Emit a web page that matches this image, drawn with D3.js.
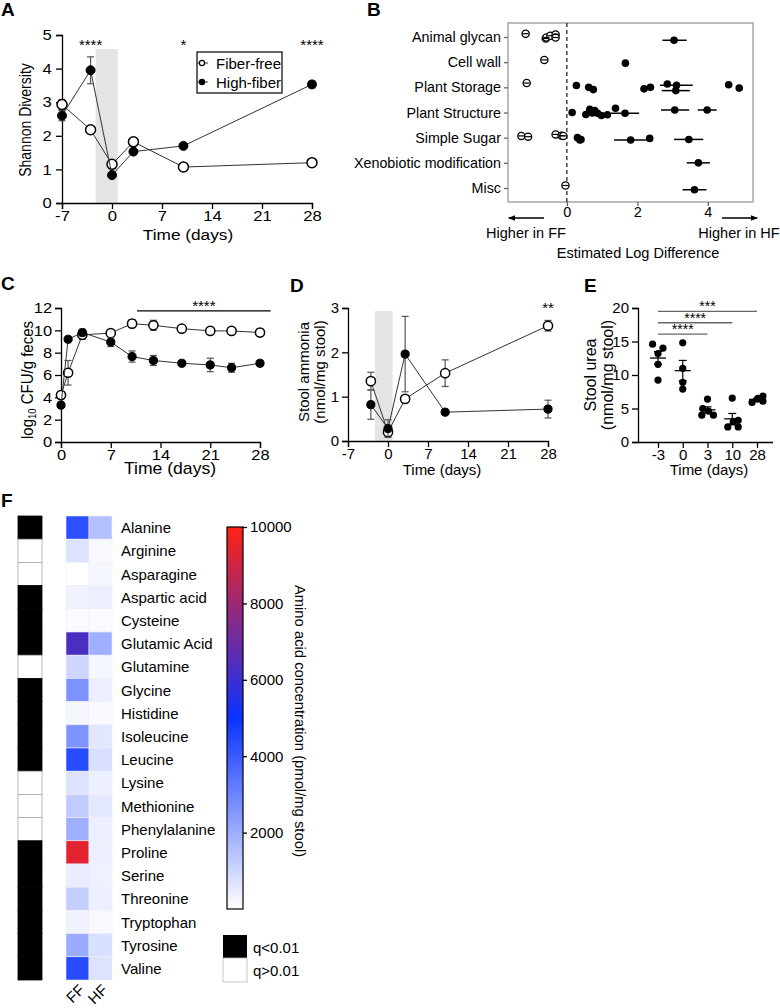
<!DOCTYPE html>
<html><head><meta charset="utf-8">
<script src="https://cdn.jsdelivr.net/npm/d3@7"></script>
<style>body{margin:0;background:#fff} svg{display:block}</style>
</head><body>
<svg id="fig" width="780" height="1008"></svg>
<script>
// ---------------- DATA ----------------
// Panel A: Shannon diversity
const daysA = [-7, -3, 0, 3, 10, 28];
const ffA = [2.93, 2.18, 1.15, 1.82, 1.07, 1.2];
const ffAErr = [0.15, 0, 0, 0, 0, 0];
const hfA = [2.6, 3.95, 0.83, 1.53, 1.7, 3.53];
const hfAErr = [0.15, 0.4, 0, 0, 0, 0.1];
const sigA = [[-3, "****"], [10, "*"], [28, "****"]];
const shadeDays = [-2.3, 0.8];
const ticksA = [-7, 0, 7, 14, 21, 28];

// Panel B: estimated log difference
const catsB = ["Animal glycan", "Cell wall", "Plant Storage", "Plant Structure", "Simple Sugar", "Xenobiotic modification", "Misc"];
// [category index, value, lo, hi, jitter(rows)]
const ffB = [
  [0, -1.17, null, null, -0.13], [0, -0.6, null, null, 0.06], [0, -0.58, null, null, 0.02], [0, -0.47, null, null, -0.05], [0, -0.32, null, null, -0.1], [0, -0.32, null, null, 0.02],
  [1, -0.64, null, null, -0.09],
  [2, -1.14, null, null, -0.17],
  [4, -1.29, null, null, -0.07], [4, -1.1, null, null, -0.04], [4, -0.32, null, null, -0.13], [4, -0.15, null, null, -0.08], [4, -0.1, null, null, -0.07],
  [6, -0.04, null, null, -0.1]
];
const hfB = [
  [0, 3.04, 2.71, 3.4, 0.13],
  [1, 1.66, null, null, 0.04],
  [2, 0.27, null, null, -0.07], [2, 0.62, null, null, 0], [2, 0.75, null, null, 0.09], [2, 2.19, 2.09, 2.28, 0.06], [2, 2.37, 2.25, 2.45, 0], [2, 2.85, null, null, -0.13], [2, 3.11, 2.64, 3.57, -0.08], [2, 3.09, 2.69, 3.49, 0.13], [2, 4.59, null, null, -0.1], [2, 4.89, null, null, 0.03],
  [3, 0.15, null, null, 0], [3, 0.54, null, null, 0.08], [3, 0.65, null, null, -0.13], [3, 0.72, null, null, 0.02], [3, 0.79, null, null, -0.08], [3, 0.87, null, null, 0.03], [3, 0.98, null, null, 0.12], [3, 1.15, null, null, 0.09], [3, 1.38, null, null, -0.17], [3, 1.65, 1.25, 2.05, 0.03], [3, 3.06, 2.67, 3.47, -0.1], [3, 3.98, 3.71, 4.25, -0.1],
  [4, 0.3, null, null, 0], [4, 0.37, null, null, 0.09], [4, 0.4, null, null, 0.07], [4, 1.81, 1.34, 2.26, 0.09], [4, 2.35, null, null, 0.03], [4, 3.46, 3.04, 3.87, 0.07],
  [5, 3.73, 3.4, 4.06, 0],
  [6, 3.62, 3.28, 3.96, 0.07]
];
const ticksB = [0, 2, 4];

// Panel C: log10 CFU/g feces
const daysC = [0, 1, 3, 7, 10, 13, 17, 21, 24, 28];
const ffC = [4.2, 6.2, 9.6, 9.75, 10.6, 10.45, 10.15, 9.95, 9.95, 9.8];
const ffCErr = [0.1, 1.1, 0.4, 0.15, 0.35, 0.45, 0.1, 0.1, 0.1, 0.3];
const hfC = [3.3, 9.2, 9.8, 8.95, 7.65, 7.3, 7.05, 6.9, 6.65, 7.05];
const hfCErr = [0.1, 0.1, 0.3, 0.4, 0.5, 0.45, 0.1, 0.6, 0.4, 0.2];
const sigC = [10.7, 29.5, 11.75, "****"];
const ticksC = [0, 7, 14, 21, 28];

// Panel D: stool ammonia
const daysD = [-3, 0, 3, 10, 28];
const ffD = [1.35, 0.2, 0.95, 1.53, 2.6];
const ffDErr = [0.2, 0.08, 0.07, 0.3, 0.12];
const hfD = [0.82, 0.28, 1.96, 0.65, 0.72];
const hfDErr = [0.33, 0.2, 0.85, 0, 0.2];
const sigD = [[28, "**"]];
const ticksD = [-7, 0, 7, 14, 21, 28];

// Panel E: stool urea
const catsE = ["-3", "0", "3", "10", "28"];
const valsE = [[14.6, 14.0, 13.2, 11.6, 9.25], [14.8, 11.0, 8.9, 7.9], [6.4, 5.0, 4.6, 4.0, 4.0], [6.55, 3.25, 3.0, 2.25, 2.25], [5.9, 6.5, 6.85, 6.1, 6.4]];
const jitE = [[-0.22, 0.2, 0, 0, 0], [0, 0, 0, 0], [0, -0.19, 0.04, -0.23, 0.24], [0, 0.24, 0.04, -0.18, 0.24], [-0.2, 0.04, 0.24, 0.24, 0.02]];
const sigE = [["-3", "28", 19.5, "***"], ["-3", "10", 17.8, "****"], ["-3", "3", 16.1, "****"]];

// Panel F: amino acid heatmap
const aminoAcids = ["Alanine", "Arginine", "Asparagine", "Aspartic acid", "Cysteine", "Glutamic Acid", "Glutamine", "Glycine", "Histidine", "Isoleucine", "Leucine", "Lysine", "Methionine", "Phenylalanine", "Proline", "Serine", "Threonine", "Tryptophan", "Tyrosine", "Valine"];
const ffF = [4300, 700, 0, 300, 100, 6300, 1000, 2650, 200, 2600, 4400, 700, 1270, 1950, 9400, 450, 1180, 300, 2050, 4400];
const hfF = [1550, 150, 200, 400, 100, 1950, 200, 400, 120, 590, 780, 400, 530, 400, 400, 350, 400, 140, 780, 700];
const sigF = [1, 0, 0, 1, 1, 1, 0, 1, 1, 1, 1, 0, 0, 0, 1, 1, 1, 1, 1, 1];
const colsF = ["FF", "HF"];
const cbTicks = [2000, 4000, 6000, 8000, 10000];

// ---------------- DRAW ----------------
const F = '"Liberation Sans", Arial, Helvetica, sans-serif';
const svg = d3.select("#fig").attr("font-family", F);
const LINE = "#333", ERR = "#555";
const plain = d => String(d);

function styleAxis(g, fs = 14, sx = 1) {
  g.selectAll("path,line").attr("stroke", "#000").attr("stroke-width", 1.3);
  g.selectAll("text").attr("font-size", fs).attr("font-family", F).attr("fill", "#000");
  if (sx !== 1) g.selectAll("text").attr("transform", `scale(${sx},1)`);
}
function letter(t, x, y) {
  svg.append("text").attr("x", x).attr("y", y).attr("font-size", 19).attr("font-weight", "bold").text(t);
}
function text(t, x, y, opts = {}) {
  const sx = opts.sx || 1, rot = opts.rot || 0;
  return svg.append("text").attr("transform", `translate(${x},${y}) scale(${sx},1) rotate(${rot})`)
    .attr("font-size", opts.fs || 14).attr("text-anchor", opts.anchor || "middle").attr("dominant-baseline", "central").text(t);
}
function series(g, xs, ys, errs, x, y, open, r) {
  const pts = xs.map((d, i) => ({ x: d, y: ys[i], e: errs[i] }));
  g.append("path").datum(pts).attr("fill", "none").attr("stroke", LINE).attr("stroke-width", 1)
    .attr("d", d3.line().x(d => x(d.x)).y(d => y(d.y)));
  const eb = g.append("g").attr("stroke", ERR).attr("stroke-width", 1.2);
  pts.filter(d => d.e > 0).forEach(d => {
    eb.append("line").attr("x1", x(d.x)).attr("x2", x(d.x)).attr("y1", y(d.y - d.e)).attr("y2", y(d.y + d.e));
    [d.y - d.e, d.y + d.e].forEach(v => eb.append("line").attr("x1", x(d.x) - 3.5).attr("x2", x(d.x) + 3.5).attr("y1", y(v)).attr("y2", y(v)));
  });
  g.selectAll(null).data(pts).join("circle").attr("cx", d => x(d.x)).attr("cy", d => y(d.y))
    .attr("r", open ? r : r - 0.5).attr("fill", open ? "#fff" : "#000").attr("stroke", "#000").attr("stroke-width", open ? 1.5 : 1);
}

// ---- Panel A ----
letter("A", 1, 16);
{
  const x = d3.scaleLinear([-7, 28], [62, 312]);
  const y = d3.scaleLinear([0, 5], [203, 35]);
  const g = svg.append("g");
  g.append("rect").attr("x", x(shadeDays[0])).attr("width", x(shadeDays[1]) - x(shadeDays[0]))
    .attr("y", y(4.58)).attr("height", y(0) - y(4.58)).attr("fill", "#e4e4e4");
  styleAxis(g.append("g").attr("transform", "translate(0,203)").call(d3.axisBottom(x).tickValues(ticksA).tickFormat(plain).tickSizeOuter(0).tickSize(6).tickPadding(2)), 14.5, 1.15);
  styleAxis(g.append("g").attr("transform", "translate(62,0)").call(d3.axisLeft(y).ticks(5).tickFormat(plain).tickSizeOuter(0).tickSize(6).tickPadding(3)), 14.5, 1.15);
  series(g, daysA, ffA, ffAErr, x, y, true, 5);
  series(g, daysA, hfA, hfAErr, x, y, false, 5);
  sigA.forEach(s => text(s[1], x(s[0]), 44, { fs: 15 }));
  text("Shannon Diversity", 25, 120, { rot: -90, fs: 14, sx: 1.15 });
  text("Time (days)", 188, 234, { fs: 15, sx: 1.15 });
  // legend
  g.append("rect").attr("x", 197).attr("y", 52).attr("width", 85).attr("height", 41).attr("fill", "#fff").attr("stroke", "#000").attr("stroke-width", 1.2);
  [["Fiber-free", true, 63], ["High-fiber", false, 82]].forEach(([t, open, yy]) => {
    g.append("line").attr("x1", 197).attr("x2", 208).attr("y1", yy).attr("y2", yy).attr("stroke", LINE);
    g.append("circle").attr("cx", 202).attr("cy", yy).attr("r", 2.6).attr("fill", open ? "#fff" : "#000").attr("stroke", "#000").attr("stroke-width", 1.2);
    text(t, 216, yy, { anchor: "start", fs: 15 });
  });
}

// ---- Panel B ----
letter("B", 367, 16);
{
  const x = d3.scaleLinear([-1.67, 5.28], [508, 753]);
  const y = d3.scalePoint(catsB, [37, 188]);
  const step = y.step();
  const g = svg.append("g");
  g.append("rect").attr("x", 508).attr("y", 23).attr("width", 245).attr("height", 179).attr("fill", "none").attr("stroke", "#999").attr("stroke-width", 1.3);
  g.append("line").attr("x1", x(0)).attr("x2", x(0)).attr("y1", 23).attr("y2", 202).attr("stroke", "#000").attr("stroke-dasharray", "4,3").attr("stroke-width", 1.1);
  const ax = g.append("g").attr("transform", "translate(0,202)").call(d3.axisBottom(x).tickValues(ticksB).tickFormat(plain).tickSizeOuter(0).tickSize(4).tickPadding(1));
  styleAxis(ax, 14.5); ax.select("path").remove(); ax.selectAll("line").attr("stroke", "#666");
  const ay = g.append("g").attr("transform", "translate(508,0)").call(d3.axisLeft(y).tickSizeOuter(0).tickSize(4).tickPadding(3));
  styleAxis(ay, 14.3); ay.select("path").remove(); ay.selectAll("line").attr("stroke", "#666");
  const py = d => y(catsB[d[0]]) + d[4] * step;
  hfB.filter(d => d[2] != null).forEach(d => g.append("line").attr("x1", x(d[2])).attr("x2", x(d[3])).attr("y1", py(d)).attr("y2", py(d)).attr("stroke", "#000").attr("stroke-width", 1.5));
  g.selectAll(null).data(hfB).join("circle").attr("cx", d => x(d[1])).attr("cy", py).attr("r", 3.8).attr("fill", "#000");
  g.selectAll(null).data(ffB).join("circle").attr("cx", d => x(d[1])).attr("cy", py).attr("r", 3.6).attr("fill", "#fff").attr("stroke", "#000").attr("stroke-width", 1.3);
  ffB.forEach(d => g.append("line").attr("x1", x(d[1]) - 3).attr("x2", x(d[1]) + 3).attr("y1", py(d)).attr("y2", py(d)).attr("stroke", "#000").attr("stroke-width", 1.2));
  // arrows
  const mk = svg.append("defs").append("marker").attr("id", "arr").attr("viewBox", "0 0 10 10").attr("refX", 9).attr("refY", 5)
    .attr("markerWidth", 9).attr("markerHeight", 7).attr("orient", "auto-start-reverse").attr("markerUnits", "userSpaceOnUse");
  mk.append("path").attr("d", "M0,1 L10,5 L0,9 Z").attr("fill", "#000");
  g.append("line").attr("x1", x(-0.65)).attr("x2", x(-1.65)).attr("y1", 218).attr("y2", 218).attr("stroke", "#000").attr("stroke-width", 1.3).attr("marker-end", "url(#arr)");
  g.append("line").attr("x1", x(4.4)).attr("x2", x(5.4)).attr("y1", 218).attr("y2", 218).attr("stroke", "#000").attr("stroke-width", 1.3).attr("marker-end", "url(#arr)");
  text("Higher in FF", 526, 233, { fs: 14.5 });
  text("Higher in HF", 739, 233, { fs: 14.5 });
  text("Estimated Log Difference", 638, 253, { fs: 14.5 });
}

// ---- Panel C ----
letter("C", 1, 290);
{
  const x = d3.scaleLinear([0, 28], [61, 260]);
  const y = d3.scaleLinear([0, 12], [442, 308]);
  const g = svg.append("g");
  styleAxis(g.append("g").attr("transform", "translate(0,442)").call(d3.axisBottom(x).tickValues(ticksC).tickFormat(plain).tickSizeOuter(0).tickSize(6).tickPadding(1)), 15, 1.1);
  styleAxis(g.append("g").attr("transform", "translate(61,0)").call(d3.axisLeft(y).tickValues([0, 2, 4, 6, 8, 10, 12]).tickFormat(plain).tickSizeOuter(0).tickSize(6).tickPadding(2)), 15, 1.1);
  series(g, daysC, ffC, ffCErr, x, y, true, 4.6);
  series(g, daysC, hfC, hfCErr, x, y, false, 4.6);
  g.append("line").attr("x1", x(sigC[0])).attr("x2", x(sigC[1])).attr("y1", y(sigC[2])).attr("y2", y(sigC[2])).attr("stroke", "#000").attr("stroke-width", 1.2);
  text(sigC[3], x((sigC[0] + sigC[1]) / 2), y(sigC[2]) - 5, { fs: 15 });
  const t = svg.append("text").attr("transform", "translate(27,380) scale(1.1,1) rotate(-90)").attr("text-anchor", "middle").attr("dominant-baseline", "central").attr("font-size", 15);
  t.append("tspan").text("log");
  t.append("tspan").attr("font-size", 9.5).attr("dy", 4).text("10");
  t.append("tspan").attr("dy", -4).text(" CFU/g feces");
  text("Time (days)", 170, 469, { fs: 16, sx: 1.1 });
}

// ---- Panel D ----
letter("D", 290, 292);
{
  const x = d3.scaleLinear([-7, 28], [348, 548]);
  const y = d3.scaleLinear([0, 3], [441, 308]);
  const g = svg.append("g");
  g.append("rect").attr("x", x(shadeDays[0])).attr("width", x(shadeDays[1]) - x(shadeDays[0]))
    .attr("y", y(2.93)).attr("height", y(0) - y(2.93)).attr("fill", "#e4e4e4");
  styleAxis(g.append("g").attr("transform", "translate(0,441)").call(d3.axisBottom(x).tickValues(ticksD).tickFormat(plain).tickSizeOuter(0).tickSize(6).tickPadding(1)), 15);
  styleAxis(g.append("g").attr("transform", "translate(348,0)").call(d3.axisLeft(y).ticks(3).tickFormat(plain).tickSizeOuter(0).tickSize(6).tickPadding(3)), 15);
  series(g, daysD, ffD, ffDErr, x, y, true, 4.6);
  series(g, daysD, hfD, hfDErr, x, y, false, 4.6);
  sigD.forEach(s => text(s[1], x(s[0]), 307, { fs: 15 }));
  text("Stool ammonia", 303, 372, { rot: -90, fs: 15 });
  text("(nmol/mg stool)", 319, 372, { rot: -90, fs: 15 });
  text("Time (days)", 442, 469, { fs: 15 });
}

// ---- Panel E ----
letter("E", 584, 292);
{
  const x = d3.scalePoint(catsE, [658, 757]);
  const step = x.step();
  const y = d3.scaleLinear([0, 20], [442, 308]);
  const g = svg.append("g");
  const ax = g.append("g").attr("transform", "translate(0,442)").call(d3.axisBottom(x).tickSizeOuter(0).tickSize(6).tickPadding(1));
  styleAxis(ax, 15);
  ax.select("path").attr("d", "M638,0.5H773");
  styleAxis(g.append("g").attr("transform", "translate(638,0)").call(d3.axisLeft(y).tickValues([0, 5, 10, 15, 20]).tickFormat(plain).tickSizeOuter(0).tickSize(6).tickPadding(3)), 15);
  catsE.forEach((c, i) => {
    const vals = valsE[i];
    const m = d3.mean(vals), se = d3.deviation(vals) / Math.sqrt(vals.length);
    g.selectAll(null).data(vals).join("circle").attr("cx", (d, j) => x(c) + jitE[i][j] * step).attr("cy", d => y(d)).attr("r", 3.6).attr("fill", "#000");
    g.append("line").attr("x1", x(c) - 8).attr("x2", x(c) + 8).attr("y1", y(m)).attr("y2", y(m)).attr("stroke", "#000").attr("stroke-width", 1.3);
    g.append("line").attr("x1", x(c)).attr("x2", x(c)).attr("y1", y(m - se)).attr("y2", y(m + se)).attr("stroke", "#000").attr("stroke-width", 1.2);
    [m - se, m + se].forEach(v => g.append("line").attr("x1", x(c) - 4).attr("x2", x(c) + 4).attr("y1", y(v)).attr("y2", y(v)).attr("stroke", "#000").attr("stroke-width", 1.2));
  });
  sigE.forEach(s => {
    g.append("line").attr("x1", x(s[0])).attr("x2", x(s[1])).attr("y1", y(s[2])).attr("y2", y(s[2])).attr("stroke", "#666").attr("stroke-width", 1.3);
    text(s[3], (x(s[0]) + x(s[1])) / 2, y(s[2]) - 5, { fs: 14 });
  });
  text("Stool urea", 590, 375, { rot: -90, fs: 16 });
  text("(nmol/mg stool)", 607, 375, { rot: -90, fs: 16 });
  text("Time (days)", 709, 469, { fs: 15 });
}

// ---- Panel F ----
letter("F", 1, 507);
{
  const y = d3.scaleBand(aminoAcids, [516, 980]);
  const xc = d3.scaleBand(colsF, [66, 112]);
  const color = d3.scaleLinear([0, 5000, 10000], ["#ffffff", "#0a32ff", "#ff2215"]).interpolate(d3.interpolateRgb);
  const g = svg.append("g");
  // significance bar
  g.selectAll(null).data(aminoAcids).join("rect").attr("x", 18).attr("width", 24).attr("y", d => y(d)).attr("height", y.bandwidth())
    .attr("fill", (d, i) => sigF[i] ? "#000" : "#fff").attr("stroke", (d, i) => sigF[i] ? "#000" : "#aaa").attr("stroke-width", 0.8);
  // heatmap
  [ffF, hfF].forEach((vals, ci) => {
    g.selectAll(null).data(aminoAcids).join("rect").attr("x", xc(colsF[ci])).attr("width", xc.bandwidth())
      .attr("y", d => y(d)).attr("height", y.bandwidth()).attr("fill", (d, i) => color(vals[i])).attr("stroke", "#eeeef4").attr("stroke-width", 0.6);
  });
  aminoAcids.forEach(a => text(a, 121, y(a) + y.bandwidth() / 2, { anchor: "start", fs: 15 }));
  colsF.forEach(c => {
    const cx = xc(c) + xc.bandwidth() / 2 + 4, cy = 987;
    svg.append("text").attr("x", cx).attr("y", cy).attr("font-size", 15).attr("text-anchor", "end").attr("dominant-baseline", "central")
      .attr("transform", `rotate(-45,${cx},${cy})`).text(c);
  });
  // colorbar
  const cy = d3.scaleLinear([0, 10000], [909, 527]);
  const grad = svg.append("defs").append("linearGradient").attr("id", "cb").attr("x1", 0).attr("x2", 0).attr("y1", 1).attr("y2", 0);
  d3.range(0, 10001, 500).forEach(v => grad.append("stop").attr("offset", v / 10000).attr("stop-color", color(v)));
  g.append("rect").attr("x", 227).attr("y", 527).attr("width", 16).attr("height", 382).attr("fill", "url(#cb)").attr("stroke", "#000").attr("stroke-width", 1.2);
  const cax = g.append("g").attr("transform", "translate(243,0)").call(d3.axisRight(cy).tickValues(cbTicks).tickSize(4).tickPadding(3).tickFormat(plain));
  styleAxis(cax, 15); cax.select("path").remove();
  text("Amino acid concentration (pmol/mg stool)", 300, 721, { rot: 90, fs: 14.8 });
  // q legend
  g.append("rect").attr("x", 223).attr("y", 935).attr("width", 24).attr("height", 23).attr("fill", "#000");
  g.append("rect").attr("x", 223).attr("y", 958).attr("width", 24).attr("height", 24).attr("fill", "#fff").attr("stroke", "#bbb").attr("stroke-width", 0.8);
  text("q<0.01", 253, 947, { anchor: "start", fs: 15 });
  text("q>0.01", 253, 970, { anchor: "start", fs: 15 });
}
</script>
</body></html>
